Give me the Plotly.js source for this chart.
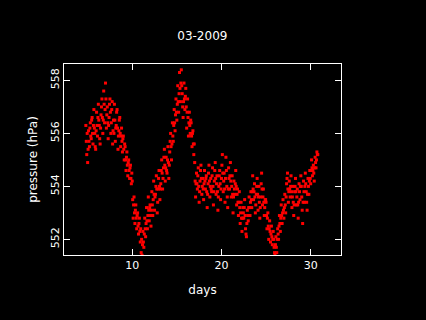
<!DOCTYPE html>
<html>
<head>
<meta charset="utf-8">
<script src="https://cdn.plot.ly/plotly-3.0.1.min.js"></script>
<style>html,body{margin:0;padding:0;background:#000;}#chart{width:426px;height:320px;}</style>
</head>
<body>
<div id="chart"></div>
<script>
// sampling: first day and step (days)
var startDay = 4.8;
var stepDay = 0.05;
// pressure readings (hPa), one row per day
var pressure = [
  556.3, 555.7, 555.2, 556.0,
  554.9, 555.4, 556.1, 555.7, 555.5, 556.2, 556.4, 555.9, 555.8, 556.5, 556.6, 556.0, 555.6, 556.3, 556.9, 556.2, 556.0, 555.5, 555.4, 556.1,
  556.8, 556.3, 555.9, 556.6, 557.1, 556.5, 556.3, 555.8, 555.6, 556.2, 556.7, 557.0, 557.3, 556.6, 556.0, 556.5, 557.6, 557.1, 556.4, 556.9,
  557.9, 557.3, 556.2, 556.7, 557.0, 556.4, 555.8, 556.3, 556.6, 557.1, 557.3, 556.8, 556.0, 556.4, 556.9, 557.2, 555.6, 556.1, 556.5, 556.0,
  557.1, 556.5, 555.7, 556.2, 556.3, 556.8, 556.9, 556.2, 555.4, 555.9, 556.1, 556.5, 556.6, 556.0, 555.5, 555.9, 556.2, 555.7, 555.3, 555.8,
  555.9, 555.4, 555.0, 555.6, 555.5, 555.0, 554.6, 555.1, 555.3, 554.8, 554.4, 554.9, 555.0, 554.6, 554.3, 554.7, 554.8, 554.3, 554.1, 554.5,
  554.2, 553.5, 552.8, 553.3, 553.6, 553.0, 552.6, 553.1, 553.3, 552.8, 552.4, 552.9, 553.0, 552.5, 552.2, 552.6, 552.8, 552.3, 551.9, 552.4,
  551.5, 552.0, 551.4, 551.8, 552.3, 551.9, 551.7, 552.2, 552.8, 552.4, 552.1, 552.6, 553.2, 552.7, 552.4, 552.9, 553.6, 553.1, 552.7, 553.2,
  553.3, 552.9, 552.5, 553.1, 553.8, 553.3, 552.9, 553.5, 554.2, 553.7, 553.1, 553.6, 553.7, 554.0, 554.4, 553.9, 553.0, 553.4, 553.9, 554.3,
  554.6, 554.0, 553.5, 553.9, 554.1, 554.6, 555.0, 554.5, 553.9, 554.3, 554.7, 555.1, 555.4, 554.8, 554.2, 554.7, 555.1, 554.6, 554.5, 555.0,
  555.5, 554.9, 554.3, 554.8, 555.3, 555.7, 556.0, 555.5, 555.0, 555.6, 556.4, 555.9, 555.7, 556.3, 556.9, 556.4, 556.1, 556.7, 557.3, 556.8,
  556.5, 557.1, 557.8, 557.2, 556.8, 557.5, 558.3, 557.7, 557.2, 557.9, 558.4, 557.8, 557.5, 557.0, 556.6, 557.2, 557.9, 557.3, 556.9, 557.4,
  557.7, 557.0, 556.2, 556.8, 557.3, 556.6, 555.9, 556.4, 556.8, 556.3, 556.0, 556.5, 556.4, 555.9, 555.5, 556.0, 556.1, 555.6, 555.2, 555.6,
  554.9, 554.2, 553.6, 554.1, 554.5, 554.1, 553.9, 554.4, 554.7, 554.0, 553.4, 553.8, 554.2, 554.6, 554.8, 554.3, 553.7, 554.0, 554.3, 553.9,
  553.5, 554.1, 554.6, 554.2, 553.9, 554.3, 554.4, 553.8, 553.2, 553.7, 554.1, 554.5, 554.8, 554.2, 553.6, 554.0, 554.3, 553.9, 553.8, 554.4,
  554.7, 554.0, 553.3, 553.8, 554.2, 554.6, 554.9, 554.3, 553.7, 554.1, 554.4, 553.8, 553.1, 553.6, 554.0, 554.4, 554.6, 554.1, 553.5, 553.9,
  554.3, 554.8, 555.2, 554.5, 553.8, 554.2, 554.5, 553.9, 553.4, 554.3, 555.1, 554.6, 554.0, 553.6, 553.2, 553.9, 554.7, 554.3, 553.9, 554.4,
  554.9, 554.2, 553.6, 554.0, 554.4, 553.7, 553.0, 553.6, 554.2, 553.9, 553.7, 554.1, 554.6, 554.0, 553.3, 553.7, 553.9, 553.4, 552.9, 553.4,
  553.8, 553.2, 552.6, 553.0, 553.4, 552.8, 552.3, 552.8, 553.2, 553.0, 552.8, 553.2, 553.5, 552.9, 552.4, 552.2, 552.1, 552.6, 553.1, 552.9,
  552.7, 553.2, 553.6, 553.2, 552.9, 553.4, 553.8, 553.5, 553.2, 553.8, 554.4, 553.9, 553.5, 553.8, 554.1, 553.6, 553.0, 553.3, 553.7, 554.0,
  554.3, 553.7, 553.1, 553.6, 554.0, 553.4, 552.8, 553.2, 553.6, 554.1, 554.5, 553.9, 553.3, 553.6, 553.9, 553.4, 552.9, 553.2, 553.5, 553.5,
  553.4, 552.9, 552.4, 552.8, 553.0, 552.5, 552.0, 552.4, 552.7, 552.3, 551.9, 552.2, 552.5, 552.1, 551.8, 552.0, 552.3, 552.0, 551.7, 551.5,
  551.4, 551.8, 552.1, 551.7, 551.5, 552.0, 552.4, 552.2, 552.0, 552.5, 552.9, 552.6, 552.3, 552.8, 553.3, 552.9, 552.6, 553.0, 553.5, 553.1,
  552.8, 553.2, 553.7, 553.3, 553.0, 553.6, 554.1, 554.3, 554.5, 553.9, 553.4, 553.8, 554.2, 553.9, 553.6, 554.0, 554.4, 553.8, 553.2, 553.6,
  554.0, 553.4, 552.9, 553.3, 553.8, 554.0, 554.3, 553.8, 553.3, 553.6, 553.9, 553.3, 552.8, 553.4, 554.1, 553.8, 553.5, 554.0, 554.4, 554.0,
  553.6, 553.1, 552.6, 553.4, 554.2, 553.8, 553.4, 554.0, 554.5, 554.1, 553.8, 553.4, 553.1, 553.7, 554.3, 554.0, 553.7, 554.2, 554.6, 554.3,
  554.1, 554.6, 555.0, 554.7, 554.4, 554.6, 554.8, 554.5, 554.2, 554.7, 555.1, 554.9, 554.7, 555.0, 555.3, 555.2, 555.2
];
var xTicks = [10, 20, 30];
var xTickLabels = ['10', '20', '30'];
var yTicks = [552, 554, 556, 558];
var yTickLabels = ['552', '554', '556', '558'];
var titleText = '03-2009';
var xTitle = 'days';
var yTitle = 'pressure (hPa)';

var fontFam = 'DejaVu Sans, sans-serif';
var trace = {
  type: 'scatter',
  mode: 'markers',
  x0: startDay,
  dx: stepDay,
  y: pressure,
  marker: {symbol: 'square', size: 3, color: '#ff0000', line: {width: 0}},
  hoverinfo: 'skip'
};
var axisCommon = {
  showgrid: false, zeroline: false,
  showline: true, linecolor: '#ffffff', linewidth: 1,
  mirror: 'allticks', ticks: 'inside', ticklen: 6, tickwidth: 1, tickcolor: '#ffffff',
  tickfont: {family: fontFam, size: 11, color: '#ffffff'}
};
var layout = {
  width: 426, height: 320,
  paper_bgcolor: '#000000', plot_bgcolor: '#000000',
  margin: {l: 64, r: 85, t: 64, b: 65},
  showlegend: false,
  title: {text: titleText, x: 0.475, xanchor: 'center', y: 0.887, yanchor: 'middle',
          font: {family: fontFam, size: 12, color: '#ffffff'}},
  xaxis: Object.assign({}, axisCommon, {
    range: [2.35, 33.4], tickmode: 'array', tickvals: xTicks, ticktext: xTickLabels,
    title: {text: xTitle, standoff: 14, font: {family: fontFam, size: 12, color: '#ffffff'}}
  }),
  yaxis: Object.assign({}, axisCommon, {
    range: [551.41, 558.62], tickmode: 'array', tickvals: yTicks, ticktext: yTickLabels,
    tickangle: -90,
    title: {text: yTitle, standoff: 8, font: {family: fontFam, size: 12, color: '#ffffff'}}
  })
};
Plotly.newPlot('chart', [trace], layout, {staticPlot: true, displayModeBar: false});
</script>
</body>
</html>
